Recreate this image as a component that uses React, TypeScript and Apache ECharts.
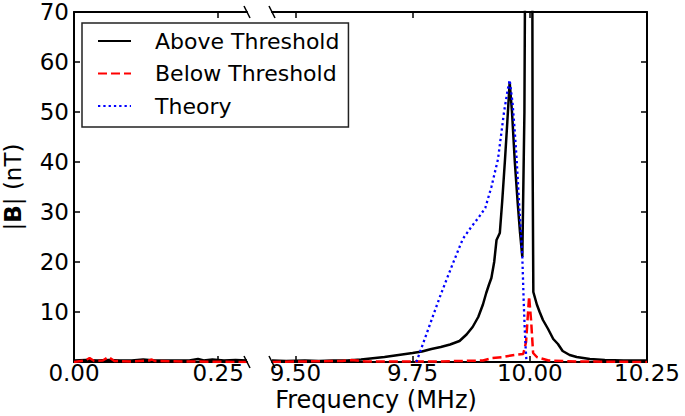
import React, { useEffect, useRef } from "react";
import * as echarts from "echarts";

const SERIES_NAMES = ["Above Threshold", "Below Threshold", "Theory"];
const Y_TICKS = [10, 20, 30, 40, 50, 60, 70];
const X_TICKS_LOW = [0, 0.25];
const X_TICKS_HIGH = [9.5, 9.75, 10, 10.25];
const X_RANGE_LOW = [0, 0.3];
const X_RANGE_HIGH = [9.45, 10.25];
const Y_RANGE = [0, 70];

// Low-frequency panel (MHz, nT)
const aboveLow: [number, number][] = [
  [0, 0.3], [0.02, 0.4], [0.04, 0.3], [0.06, 0.4], [0.08, 0.3], [0.1, 0.3],
  [0.12, 0.5], [0.14, 0.3], [0.16, 0.3], [0.18, 0.3], [0.2, 0.3], [0.215, 0.6],
  [0.225, 0.3], [0.24, 0.5], [0.26, 0.3], [0.28, 0.4], [0.3, 0.3],
];
const belowLow: [number, number][] = [
  [0, 0], [0.02, 0.3], [0.027, 0.8], [0.035, 0.2], [0.05, 0.3], [0.06, 1.0],
  [0.07, 0.2], [0.1, 0.1], [0.13, 0.3], [0.135, 0.5], [0.14, 0.2], [0.2, 0.1], [0.3, 0],
];

// High-frequency panel (MHz, nT)
const aboveHigh: [number, number][] = [
  [9.45, 0.3], [9.48, 0.2], [9.52, 0.3], [9.55, 0.2], [9.58, 0.3], [9.61, 0.3],
  [9.64, 0.5], [9.67, 0.8], [9.69, 1.0], [9.72, 1.4], [9.75, 1.8], [9.77, 2.1],
  [9.79, 2.6], [9.81, 3.0], [9.83, 3.5], [9.85, 4.2], [9.865, 5.5], [9.878, 7.0],
  [9.89, 9.0], [9.9, 11.5], [9.907, 13.8], [9.913, 15.5], [9.918, 16.8], [9.924, 20],
  [9.929, 24.4], [9.936, 25.8], [9.941, 32], [9.947, 40.4], [9.952, 48], [9.957, 56],
  [9.962, 50], [9.968, 40], [9.974, 32], [9.979, 26], [9.984, 21], [9.9885, 50],
  [9.991, 100], [9.997, 130], [10.002, 130], [10.005, 100], [10.006, 40], [10.0075, 14],
  [10.015, 11.5], [10.021, 10], [10.028, 8.4], [10.039, 6.6], [10.05, 4.6], [10.06, 3.6],
  [10.07, 2.2], [10.085, 1.4], [10.1, 1.0], [10.128, 0.6], [10.16, 0.4], [10.2, 0.3],
  [10.25, 0.3],
];
const belowHigh: [number, number][] = [
  [9.45, 0], [9.5, 0.1], [9.6, 0.2], [9.62, 0.4], [9.65, 0.1], [9.7, 0.1], [9.8, 0.1],
  [9.85, 0.2], [9.9, 0.3], [9.92, 0.8], [9.943, 1.0], [9.96, 1.3], [9.975, 1.5],
  [9.986, 1.6], [9.992, 4], [9.9985, 13.1], [10.003, 8], [10.007, 1.8], [10.015, 1.0],
  [10.021, 0.8], [10.04, 0.3], [10.1, 0.1], [10.25, 0],
];
const theoryHigh: [number, number][] = [
  [9.758, 0], [9.765, 1.8], [9.785, 7], [9.81, 13.5], [9.835, 19.5], [9.857, 24.6],
  [9.875, 27], [9.89, 28.8], [9.905, 30.8], [9.918, 35], [9.932, 40.5], [9.945, 50],
  [9.952, 54], [9.957, 56.4], [9.963, 52], [9.968, 46], [9.972, 40.4], [9.977, 32],
  [9.981, 26], [9.984, 21], [9.987, 12], [9.989, 7], [9.991, 3], [9.993, 0],
];

const FONT = "DejaVu Sans";
const G0 = { left: 71, top: 12, width: 176, height: 350 };
const G1 = { left: 272, top: 12, width: 375, height: 350 };

const axisLine = { show: true, onZero: false, lineStyle: { color: "#000", width: 2 } };
const tick = (vals: number[]) => ({
  show: true, inside: true, length: 6, customValues: vals,
  lineStyle: { color: "#000", width: 1.5 },
});

function xAxis(grid: number, range: number[], ticks: number[], pos: "bottom" | "top") {
  return {
    type: "value", gridIndex: grid, position: pos, min: range[0], max: range[1],
    axisLine, axisTick: tick(ticks), splitLine: { show: false },
    axisLabel: pos === "bottom" ? {
      show: true, customValues: ticks, margin: 0, color: "#000", fontSize: 23,
      lineHeight: 21, fontFamily: FONT, formatter: (v: number) => v.toFixed(2),
    } : { show: false },
  };
}

const lineStyles = [
  { color: "#000", width: 2.5, type: "solid" as const },
  { color: "#ff0000", width: 2.5, type: [9, 4] },
  { color: "#0000ff", width: 2.3, type: [2.3, 3] },
];

function mkSeries(nameIdx: number, xi: number, yi: number, data: [number, number][]) {
  return {
    type: "line", name: SERIES_NAMES[nameIdx], xAxisIndex: xi, yAxisIndex: yi, data,
    symbol: "none", showSymbol: false, clip: true, silent: true,
    emphasis: { disabled: true }, lineStyle: lineStyles[nameIdx],
    itemStyle: { color: lineStyles[nameIdx].color }, z: 2 + nameIdx,
  };
}

function breakMark(cx: number, cy: number) {
  return {
    type: "line", silent: true, z: 100,
    shape: { x1: cx - 3, y1: cy - 6, x2: cx + 3, y2: cy + 6 },
    style: { stroke: "#000", lineWidth: 1.5 },
  };
}

export default function App() {
  const ref = useRef<HTMLDivElement>(null);
  useEffect(() => {
    document.body.style.margin = "0";
    const chart = echarts.init(ref.current!, null, { renderer: "svg" });
    const g0r = G0.left + G0.width;
    const g0b = G0.top + G0.height;
    chart.setOption({
      animation: false,
      backgroundColor: "#fff",
      grid: [
        { ...G0, containLabel: false },
        { ...G1, containLabel: false },
      ],
      xAxis: [
        xAxis(0, X_RANGE_LOW, X_TICKS_LOW, "bottom"),
        xAxis(0, X_RANGE_LOW, X_TICKS_LOW, "top"),
        xAxis(1, X_RANGE_HIGH, X_TICKS_HIGH, "bottom"),
        xAxis(1, X_RANGE_HIGH, X_TICKS_HIGH, "top"),
      ],
      yAxis: [
        {
          type: "value", gridIndex: 0, position: "left", min: Y_RANGE[0], max: Y_RANGE[1],
          axisLine, axisTick: tick(Y_TICKS), splitLine: { show: false },
          axisLabel: { customValues: Y_TICKS, margin: 5, color: "#000", fontSize: 23, fontFamily: FONT },
          name: "{a||}{b|B}{a|| (nT)}", nameLocation: "middle", nameGap: 50,
          nameTextStyle: {
            color: "#000", fontSize: 23, fontFamily: FONT,
            rich: {
              a: { color: "#000", fontSize: 23, fontFamily: FONT },
              b: { color: "#000", fontSize: 23, fontFamily: FONT, fontWeight: "bold" },
            },
          },
        },
        {
          type: "value", gridIndex: 1, position: "right", min: Y_RANGE[0], max: Y_RANGE[1],
          axisLine, axisTick: tick(Y_TICKS), splitLine: { show: false },
          axisLabel: { show: false },
        },
      ],
      legend: {
        data: SERIES_NAMES, orient: "vertical", left: 82, top: 23,
        padding: [5, 9, 8, 15], itemGap: 6.5, itemWidth: 33, itemHeight: 14,
        borderColor: "#222", borderWidth: 1.5, borderRadius: 0, backgroundColor: "#fff",
        selectedMode: false,
        itemStyle: { opacity: 0 },
        textStyle: { color: "#000", fontSize: 22, fontFamily: FONT, lineHeight: 26, padding: [0, 0, 0, 19] },
      },
      series: [
        mkSeries(0, 0, 0, aboveLow),
        mkSeries(1, 0, 0, belowLow),
        mkSeries(0, 2, 1, aboveHigh),
        mkSeries(1, 2, 1, belowHigh),
        mkSeries(2, 2, 1, theoryHigh),
      ],
      graphic: [
        breakMark(g0r, G0.top),
        breakMark(g0r, g0b),
        breakMark(G1.left, G1.top),
        breakMark(G1.left, g0b),
        {
          type: "text", x: 376, y: 400, silent: true,
          style: {
            text: "Frequency (MHz)", fill: "#000", fontSize: 24, lineHeight: 22, fontFamily: FONT,
            align: "center", verticalAlign: "middle",
          },
        },
      ],
    });
    return () => chart.dispose();
  }, []);
  return <div ref={ref} style={{ width: 685, height: 416 }} />;
}
